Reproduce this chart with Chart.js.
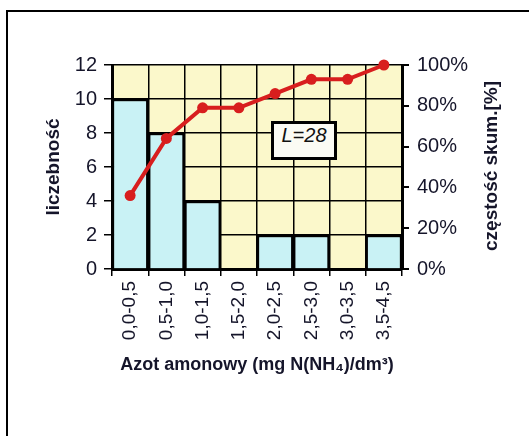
<!DOCTYPE html>
<html>
<head>
<meta charset="utf-8">
<script src="https://cdn.jsdelivr.net/npm/chart.js@4"></script>
<style>
  body { margin: 0; background: #fff; }
  #wrap { position: relative; width: 529px; height: 436px; overflow: hidden; }
  #frame { position: absolute; left: 6px; top: 10px; width: 600px; height: 500px;
           border-left: 2px solid #000; border-top: 2px solid #000; }
  #rtitle { position: absolute; left: 491px; top: 166px; transform: translate(-50%, -50%) rotate(-90deg);
            white-space: nowrap; font: bold 19px "Liberation Sans", Arial, sans-serif; color: #15152a; }
  #nbox { position: absolute; left: 271px; top: 121px; width: 60px; height: 33px;
          border: 3px solid #000; background: #fbfbf4; text-align: center; line-height: 33px;
          font: italic 20px "Liberation Sans", Arial, sans-serif; color: #111; }
</style>
</head>
<body>
<div id="wrap">
  <div id="frame"></div>
  <canvas id="chart"></canvas>
  <div id="rtitle">częstość skum.[%]</div>
  <div id="nbox">L=28</div>
</div>
<script>
// dane z wykresu
const categories = ["0,0-0,5", "0,5-1,0", "1,0-1,5", "1,5-2,0", "2,0-2,5", "2,5-3,0", "3,0-3,5", "3,5-4,5"];
const counts = [10, 8, 4, 0, 2, 2, 0, 2];
const cumPercent = [36, 64, 79, 79, 86, 93, 93, 100];
const countTicks = [0, 2, 4, 6, 8, 10, 12];
const percentTicks = [0, 10, 20, 30, 40, 50, 60, 70, 80, 90, 100];

const textColor = "#15152a";
const fontFamily = '"Liberation Sans", Arial, sans-serif';

// tlo obszaru wykresu
const plotBg = {
  id: "plotBg",
  beforeDraw(chart) {
    const { ctx, chartArea: a } = chart;
    ctx.save();
    ctx.fillStyle = "#fbf8cb";
    ctx.fillRect(a.left, a.top, a.width, a.height);
    ctx.restore();
  }
};

const ctx = document.getElementById("chart").getContext("2d");
new Chart(ctx, {
  data: {
    labels: categories,
    datasets: [
      {
        type: "line",
        data: cumPercent,
        yAxisID: "y2",
        order: 0,
        borderColor: "#d81e1e",
        backgroundColor: "#d81e1e",
        borderWidth: 4,
        pointRadius: 5.5,
        pointBorderWidth: 0,
        tension: 0,
        clip: false
      },
      {
        type: "bar",
        data: counts,
        yAxisID: "y",
        order: 1,
        backgroundColor: "#c9f2f5",
        borderColor: "#000",
        borderWidth: 2.5,
        borderSkipped: "start",
        barPercentage: 1,
        categoryPercentage: 1
      }
    ]
  },
  options: {
    responsive: true,
    maintainAspectRatio: false,
    animation: false,
    layout: { padding: { top: 65, left: 0, right: 0, bottom: 0 } },
    plugins: { legend: { display: false }, tooltip: { enabled: false } },
    scales: {
      x: {
        afterFit: s => { s.height = 167; },
        grid: { offset: true, color: "#000", lineWidth: 1.5, tickLength: 7 },
        border: { color: "#000", width: 3 },
        ticks: {
          autoSkip: false, maxRotation: 90, minRotation: 90, padding: 5,
          color: textColor, font: { family: fontFamily, size: 19 }
        },
        title: {
          display: true, text: "Azot amonowy (mg N(NH₄)/dm³)", color: textColor,
          font: { family: fontFamily, size: 18, weight: "bold" },
          padding: { top: 0, bottom: 60 }
        }
      },
      y: {
        position: "left",
        min: 0, max: 12,
        afterFit: s => { s.width = 112; },
        afterBuildTicks: s => { s.ticks = countTicks.map(v => ({ value: v })); },
        grid: { color: "#000", lineWidth: 1.5, tickLength: 8 },
        border: { color: "#000", width: 3 },
        ticks: { padding: 7, color: textColor, font: { family: fontFamily, size: 20 } },
        title: {
          display: true, text: "liczebność", color: textColor,
          font: { family: fontFamily, size: 19, weight: "bold" },
          padding: { top: 42, bottom: 0 }
        }
      },
      y2: {
        position: "right",
        min: 0, max: 100,
        afterFit: s => { s.width = 127; },
        afterBuildTicks: s => { s.ticks = percentTicks.map(v => ({ value: v })); },
        grid: { drawOnChartArea: false, color: "#000", lineWidth: 2, tickLength: 7 },
        border: { color: "#000", width: 3 },
        ticks: {
          padding: 8, color: textColor, font: { family: fontFamily, size: 20 },
          callback: v => (v % 20 === 0 ? v + "%" : "")
        }
      }
    }
  },
  plugins: [plotBg]
});
</script>
</body>
</html>
